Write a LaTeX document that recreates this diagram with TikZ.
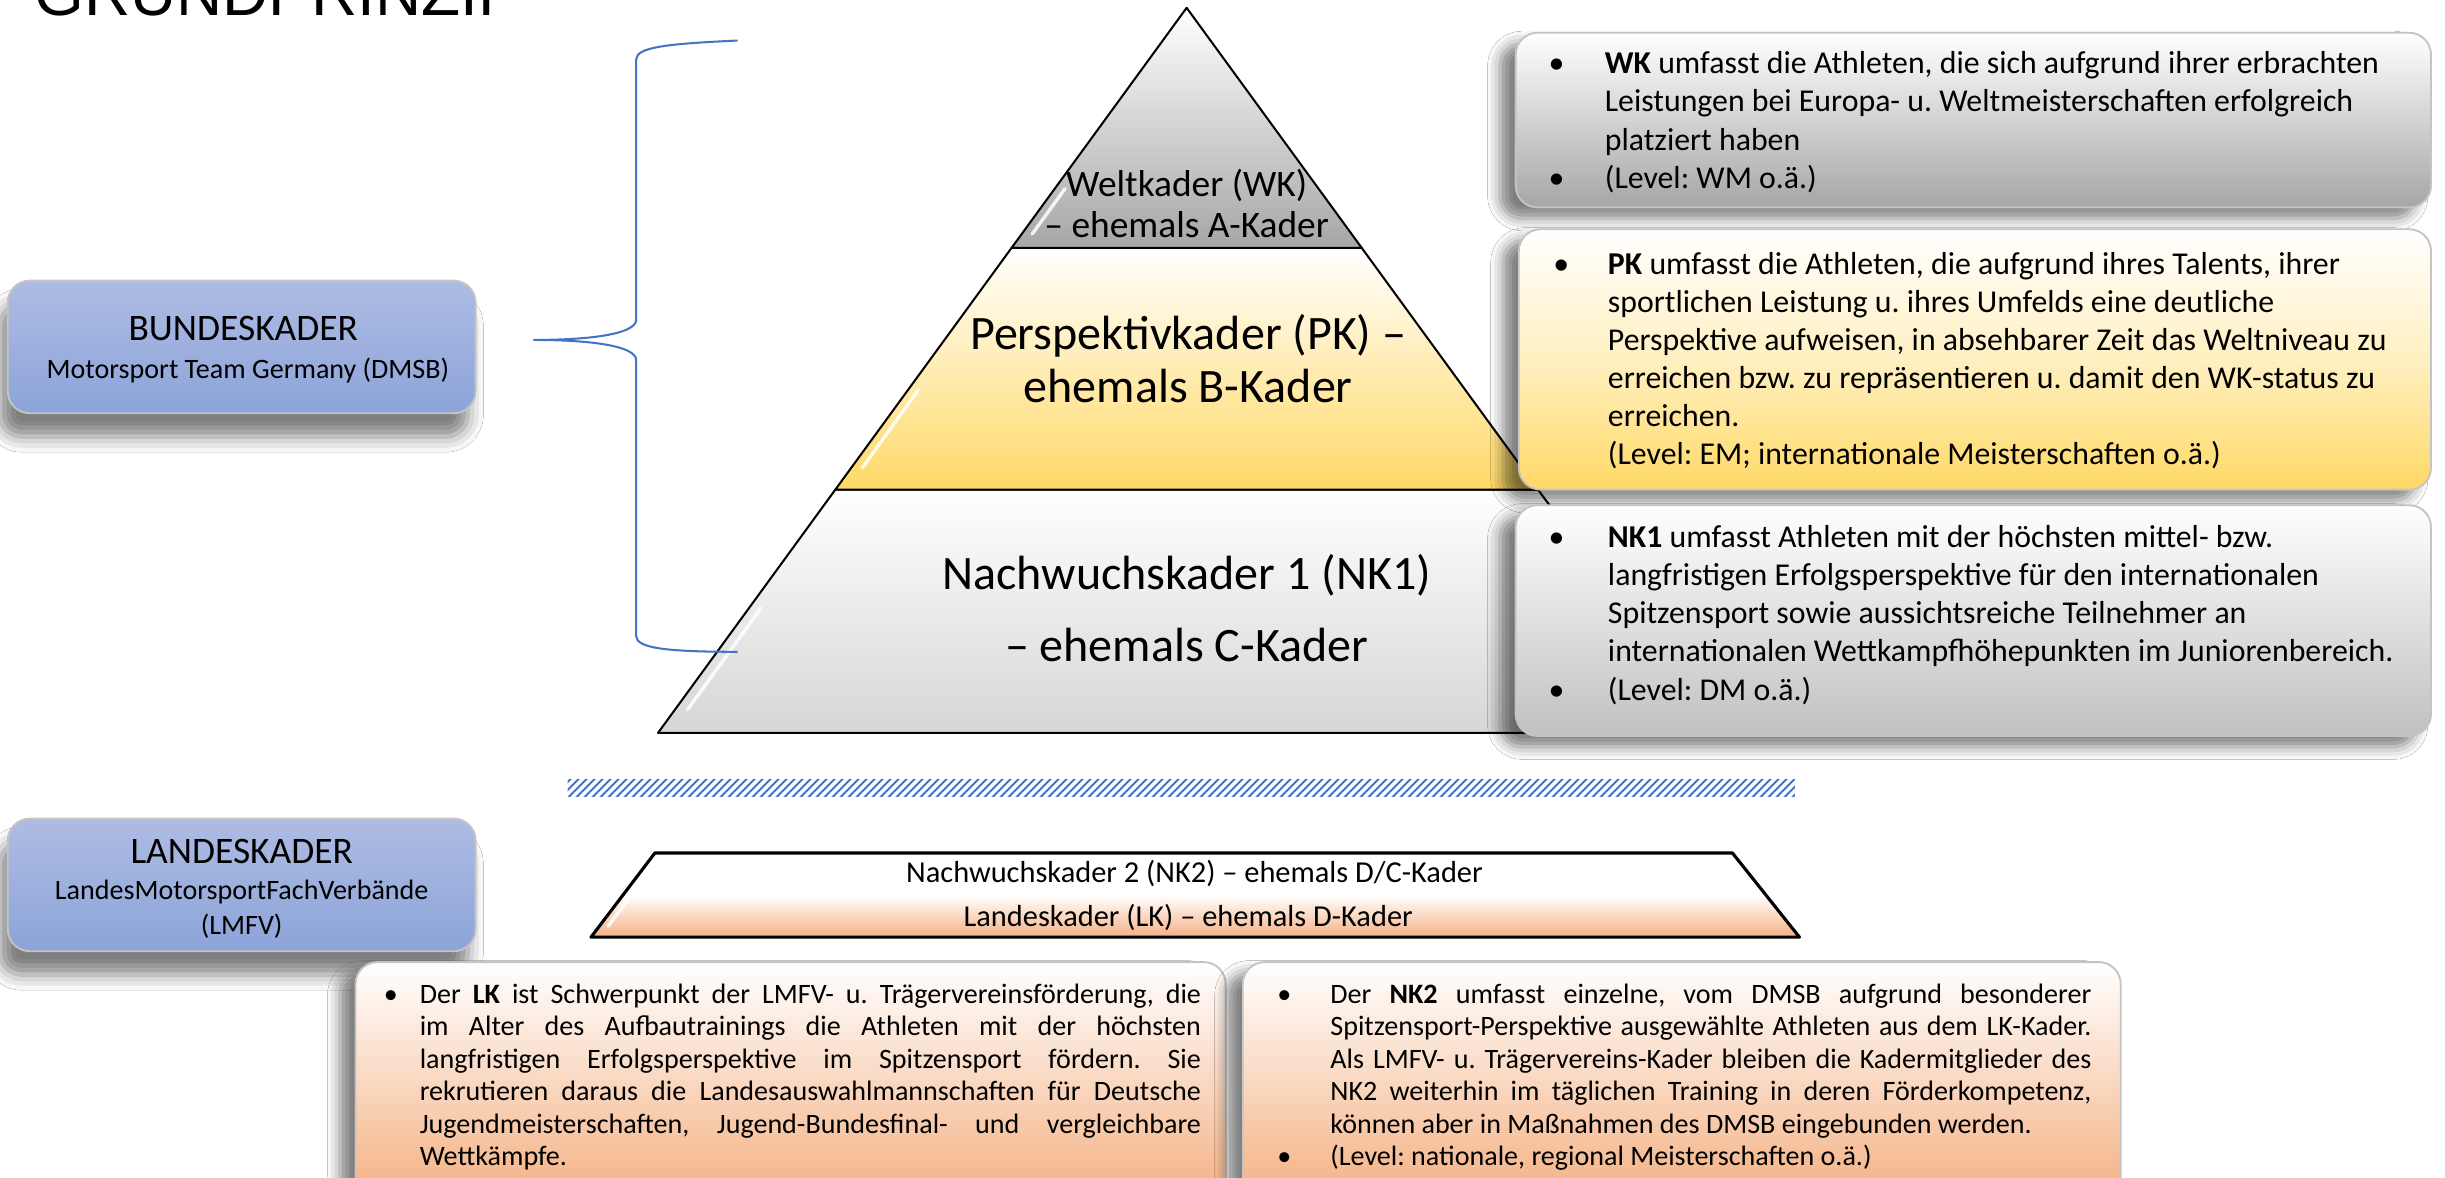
\documentclass[tikz,border=0pt]{standalone}
\usepackage{fontspec}
\setmainfont{Carlito}
\newfontfamily\titlefont{Liberation Sans}
\usetikzlibrary{shadows.blur,patterns.meta}
\definecolor{braceblue}{HTML}{4472C4}
\definecolor{gold}{HTML}{FFD966}
\definecolor{wkgray}{HTML}{A6A6A6}
\definecolor{nkgray}{HTML}{D6D6D6}
\definecolor{peach}{HTML}{F4B183}
\definecolor{bluetop}{HTML}{AEBCE3}
\definecolor{bluebot}{HTML}{8CA4D9}
\definecolor{boxedge}{HTML}{C4C4C4}
\newcommand\fs[2]{\fontsize{#1}{#2}\selectfont}
\newcommand\ltab[1]{\begin{tabular}[t]{@{}l@{}}#1\end{tabular}}
\newcommand\ctab[1]{\begin{tabular}[t]{@{}c@{}}#1\end{tabular}}
\newcommand\jl[2]{\makebox[#1][s]{#2}}
\frenchspacing
\begin{document}
\frenchspacing
\begin{tikzpicture}[x=1pt,y=-1pt,
  layer/.style={draw=black, line width=1.3pt, line join=round},
  sidebox/.style={draw=boxedge, line width=1.2pt, rounded corners=14pt,
    blur shadow={shadow xshift=-10pt, shadow yshift=-7pt, shadow opacity=50, shadow blur radius=8pt}},
  bluebox/.style={draw=boxedge, line width=1.2pt, rounded corners=14pt,
    top color=bluetop, bottom color=bluebot, minimum width=300pt, minimum height=85pt,
    blur shadow={shadow xshift=-5pt, shadow yshift=-15pt, shadow opacity=50, shadow blur radius=10pt}},
  txt/.style={inner sep=0pt, anchor=base west},
  ctxt/.style={inner sep=0pt, anchor=base},
  gloss/.style={white, line width=2.2pt, opacity=.85, line cap=round},
  brace/.style={draw=braceblue, line width=1.3pt}
]
\useasboundingbox (0,0) rectangle (1568,755);
\clip (0,0) rectangle (1568,755);
\fill[white] (0,0) rectangle (1568,755);

% title
\node[txt, font=\titlefont\fs{41}{45}] (title) at (22,10) {GRUNDPRINZIP};

% left blue boxes
\node[bluebox] (bund) at (155,222.5) {};
\node[ctxt, font=\fs{24}{29}] (bundT) at (156,218.5) {BUNDESKADER};
\node[ctxt, font=\fs{18}{22}] (bundS) at (159,242.7) {Motorsport Team Germany (DMSB)};

\node[bluebox] (land) at (155,567.5) {};
\node[ctxt, font=\fs{24}{29}] (landT) at (155,554) {LANDESKADER};
\node[ctxt, font=\fs{18}{22}] (landS) at (155,577) {\ctab{LandesMotorsportFachVerbände\\(LMFV)}};

% pyramid
\path[layer, top color=white, bottom color=nkgray] (535.7,314) -- (986.3,314) -- (1102,470) -- (422,470) -- cycle;
\path[layer, top color=white, bottom color=gold] (648.7,159) -- (873.3,159) -- (986.3,314) -- (535.7,314) -- cycle;
\path[layer, top color=white, bottom color=wkgray] (761,5) -- (873.3,159) -- (648.7,159) -- cycle;
\draw[gloss] (662,150) -- (683,121);
\draw[gloss] (553,300) -- (589,250);
\draw[gloss] (441,455) -- (488,390);

\node[ctxt, font=\fs{24}{26}] (wkT) at (761,126) {\ctab{Weltkader (WK)\\– ehemals A-Kader}};
\node[ctxt, font=\fs{30.8}{34}] (pkT) at (762,224) {\ctab{Perspektivkader (PK) –\\ehemals B-Kader}};
\node[ctxt, font=\fs{30.8}{46}] (nkT) at (761,378) {\ctab{Nachwuchskader 1 (NK1)\\– ehemals C-Kader}};

% brace
\coordinate (brTop) at (473,26);
\coordinate (brTip) at (342,218);
\coordinate (brBot) at (473,418);
\draw[brace] (brTop) .. controls (430,28) and (408,30) .. (408,38) -- (408,205)
  .. controls (408,214) and (380,218) .. (brTip)
  .. controls (380,218) and (408,222) .. (408,231) -- (408,408)
  .. controls (408,416) and (430,418) .. (brBot);

% right boxes
\node[sidebox, top color=white, bottom color=wkgray, minimum width=587pt, minimum height=112pt] (wkB) at (1265.5,77) {};
\node[sidebox, top color=white, bottom color=gold, middle color=white!60!gold, minimum width=585pt, minimum height=167pt] (pkB) at (1266.5,230.5) {};
\node[sidebox, top color=white, bottom color=nkgray!90!black, minimum width=587pt, minimum height=148pt] (nkB) at (1265.5,398) {};

\node[txt, font=\fs{20.4}{24.6}] (wkb1) at (993,47) {\textbullet};
\node[txt, font=\fs{20.4}{24.6}] (wkb2) at (993,120.8) {\textbullet};
\node[txt, font=\fs{20.4}{24.6}] (wkX) at (1029,47) {\ltab{\textbf{WK} umfasst die Athleten, die sich aufgrund ihrer erbrachten\\Leistungen bei Europa- u. Weltmeisterschaften erfolgreich\\platziert haben\\(Level: WM o.ä.)}};

\node[txt, font=\fs{20.4}{24.4}] (pkb1) at (996,176) {\textbullet};
\node[txt, font=\fs{20.4}{24.4}] (pkX) at (1031,176) {\ltab{\textbf{PK} umfasst die Athleten, die aufgrund ihres Talents, ihrer\\sportlichen Leistung u. ihres Umfelds eine deutliche\\Perspektive aufweisen, in absehbarer Zeit das Weltniveau zu\\erreichen bzw. zu repräsentieren u. damit den WK-status zu\\erreichen.\\(Level: EM; internationale Meisterschaften o.ä.)}};

\node[txt, font=\fs{20.4}{24.5}] (nkb1) at (993,351) {\textbullet};
\node[txt, font=\fs{20.4}{24.5}] (nkb2) at (993,449) {\textbullet};
\node[txt, font=\fs{20.4}{24.5}] (nkX) at (1031,351) {\ltab{\textbf{NK1} umfasst Athleten mit der höchsten mittel- bzw.\\langfristigen Erfolgsperspektive für den internationalen\\Spitzensport sowie aussichtsreiche Teilnehmer an\\internationalen Wettkampfhöhepunkten im Juniorenbereich.\\(Level: DM o.ä.)}};

% separator band
\path[pattern={Lines[angle=45,distance=4pt,line width=1.5pt]}, pattern color=braceblue] (364,500) rectangle (1151,511);

% lower trapezoid
\path[draw=black, line width=2pt, line join=round, top color=white, bottom color=peach, middle color=white] (420,547) -- (1111,547) -- (1154,601) -- (379,601) -- cycle;
\draw[white, line width=1.5pt] (486,574) -- (1108,574);
\draw[gloss] (390,594) -- (410,567);
\node[ctxt, font=\fs{19.5}{22}] (nk2T) at (766,566) {Nachwuchskader 2 (NK2) – ehemals D/C-Kader};
\node[ctxt, font=\fs{19.5}{22}] (lkT) at (762,594) {Landeskader (LK) – ehemals D-Kader};

% bottom boxes
\node[sidebox, top color=white, bottom color=peach, minimum width=558pt, minimum height=152pt] (lkB) at (507,693) {};
\node[sidebox, top color=white, bottom color=peach, minimum width=563pt, minimum height=152pt] (nk2B) at (1078.5,693) {};

\node[txt, font=\fs{18}{20.8}] (lkb1) at (246,643.5) {\textbullet};
\node[txt, font=\fs{18}{20.8}] (lkX) at (269,643.5) {\ltab{\jl{501pt}{Der \textbf{LK} ist Schwerpunkt der LMFV- u. Trägervereinsförderung, die}\\\jl{501pt}{im Alter des Aufbautrainings die Athleten mit der höchsten}\\\jl{501pt}{langfristigen Erfolgsperspektive im Spitzensport fördern. Sie}\\\jl{501pt}{rekrutieren daraus die Landesauswahlmannschaften für Deutsche}\\\jl{501pt}{Jugendmeisterschaften, Jugend-Bundesfinal- und vergleichbare}\\Wettkämpfe.}};

\node[txt, font=\fs{18}{20.8}] (nk2b1) at (819,643.5) {\textbullet};
\node[txt, font=\fs{18}{20.8}] (nk2b2) at (819,747.5) {\textbullet};
\node[txt, font=\fs{18}{20.8}] (nk2X) at (853,643.5) {\ltab{\jl{488pt}{Der \textbf{NK2} umfasst einzelne, vom DMSB aufgrund besonderer}\\\jl{488pt}{Spitzensport-Perspektive ausgewählte Athleten aus dem LK-Kader.}\\\jl{488pt}{Als LMFV- u. Trägervereins-Kader bleiben die Kadermitglieder des}\\\jl{488pt}{NK2 weiterhin im täglichen Training in deren Förderkompetenz,}\\können aber in Maßnahmen des DMSB eingebunden werden.\\(Level: nationale, regional Meisterschaften o.ä.)}};
\end{tikzpicture}
\end{document}
